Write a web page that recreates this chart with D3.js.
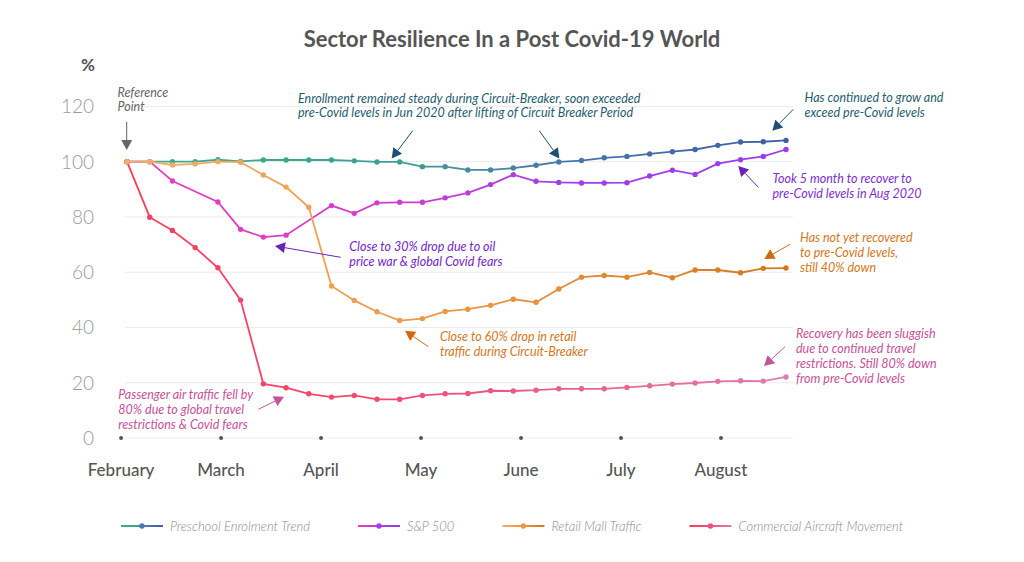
<!DOCTYPE html>
<html><head><meta charset="utf-8">
<script src="https://cdn.jsdelivr.net/npm/d3@7"></script>
<style>body{margin:0;background:#fff}svg{display:block}text{font-family:Lato,'Noto Sans',sans-serif}</style>
</head><body><svg id="c" width="1024" height="562"></svg>
<script>
// ---------- data ----------
const weeks = [0,1,2,3,4,5,6,7,8,9,10,11,12,13,14,15,16,17,18,19,20,21,22,23,24,25,26,27,28,29];
const preschool = [100,100,100,100,100.7,100.1,100.6,100.6,100.6,100.6,100.3,99.9,99.9,98.2,98.2,97.0,97.0,97.7,98.7,99.9,100.4,101.4,101.9,102.8,103.6,104.4,105.9,107.1,107.2,107.7];
const sp500 = [100,100,93.0,null,85.4,75.5,72.7,73.4,null,84.1,81.3,85.1,85.3,85.3,86.9,88.7,91.7,95.3,92.9,92.5,92.3,92.3,92.4,94.8,96.9,95.4,99.3,100.7,101.9,104.4];
const retail = [100,100,98.8,99.2,100,99.8,95.2,90.8,83.5,55.0,49.8,45.7,42.5,43.2,45.8,46.6,48.0,50.2,49.1,53.9,58.2,58.8,58.2,59.9,58.0,60.8,60.8,59.8,61.4,61.5];
const aircraft = [100,79.9,75.1,68.9,61.6,49.9,19.6,18.2,16.0,14.8,15.4,14.0,14.0,15.4,16.0,16.1,17.1,17.0,17.3,17.8,17.8,17.8,18.3,18.9,19.5,19.9,20.5,20.7,20.6,22.1];
const seriesNames = ["Preschool Enrolment Trend","S&P 500","Retail Mall Traffic","Commercial Aircraft Movement"];
const monthLabels = ["February","March","April","May","June","July","August"];
const monthPos = [-0.26,4.14,8.54,12.94,17.34,21.74,26.14];
const yTicks = [0,20,40,60,80,100,120];

// ---------- styles ----------
const gradStops = [
  [["0%","#3cae8c"],["40%","#3aa293"],["62%","#4a7aab"],["100%","#3f5ea6"]],
  [["0%","#ea3fbd"],["40%","#cf3dcc"],["65%","#a33ee6"],["100%","#9a3cf0"]],
  [["0%","#f6ad6a"],["50%","#eb9744"],["100%","#d6771e"]],
  [["0%","#f83d58"],["45%","#ef4f78"],["100%","#df7cb0"]]
];
const seriesData = [preschool, sp500, aircraft, retail];
const seriesIdx = [0,1,3,2]; // draw order -> gradient/name index

const svg = d3.select("#c");
const W = 1024, H = 562;
svg.append("rect").attr("width",W).attr("height",H).attr("fill","#fff");

const x = d3.scaleLinear().domain([0,29]).range([127,786]);
const y = d3.scaleLinear().domain([0,120]).range([438,106.4]);

const defs = svg.append("defs");
gradStops.forEach((st,i)=>{
  const g = defs.append("linearGradient").attr("id","g"+i)
    .attr("gradientUnits","userSpaceOnUse")
    .attr("x1",x(0)).attr("x2",x(29)).attr("y1",0).attr("y2",0);
  st.forEach(s=>g.append("stop").attr("offset",s[0]).attr("stop-color",s[1]));
  const gl = defs.append("linearGradient").attr("id","gl"+i)
    .attr("gradientUnits","userSpaceOnUse")
    .attr("x1",0).attr("x2",42).attr("y1",0).attr("y2",0);
  st.forEach(s=>gl.append("stop").attr("offset",s[0]).attr("stop-color",s[1]));
});

// title
svg.append("text").attr("x",512).attr("y",47).attr("text-anchor","middle")
  .attr("font-size",22).attr("font-weight",700).attr("fill","#555")
  .text("Sector Resilience In a Post Covid-19 World");
svg.append("text").attr("x",88).attr("y",71).attr("text-anchor","middle")
  .attr("font-size",17).attr("font-weight",700).attr("fill","#555").text("%");

// grid
svg.append("g").selectAll("line").data(yTicks).join("line")
  .attr("x1",125).attr("x2",793).attr("y1",d=>y(d)).attr("y2",d=>y(d))
  .attr("stroke","#ebebeb").attr("stroke-width",1);
svg.append("g").selectAll("text").data(yTicks).join("text")
  .attr("x",94).attr("y",d=>y(d)+7).attr("text-anchor","end")
  .attr("font-size",19).attr("font-weight",300).attr("fill","#9a9a9a").text(d=>d);

// x axis dots + labels
svg.append("g").selectAll("circle").data(monthPos).join("circle")
  .attr("cx",d=>x(d)).attr("cy",y(0)).attr("r",2).attr("fill","#555");
svg.append("g").selectAll("text").data(monthLabels).join("text")
  .attr("x",(d,i)=>x(monthPos[i])).attr("y",476).attr("text-anchor","middle")
  .attr("font-size",17).attr("font-weight",500).attr("fill","#555").text(d=>d);

// lines
const line = d3.line().x(d=>x(d.w)).y(d=>y(d.v));
seriesData.forEach((vals,k)=>{
  const gi = seriesIdx[k];
  const pts = weeks.map((w,i)=>({w, v: vals[i]})).filter(d=>d.v!==null);
  svg.append("path").datum(pts).attr("d",line).attr("fill","none")
    .attr("stroke","url(#g"+gi+")").attr("stroke-width",1.8);
  svg.append("g").selectAll("circle").data(pts).join("circle")
    .attr("cx",d=>x(d.w)).attr("cy",d=>y(d.v)).attr("r",2.7)
    .attr("fill","url(#g"+gi+")");
});

// annotations
const annos = [
  {lines:["Reference","Point"], x:117.5, y:96.5, color:"#666", arrow:[[126.7,122],[126.7,150]], ac:"#666"},
  {lines:["Enrollment remained steady during Circuit-Breaker, soon exceeded","pre-Covid levels in Jun 2020 after lifting of Circuit Breaker Period"], x:298, y:102.5, color:"#1f5d6e", arrow:[[412.7,130.7],[391.7,158.5]], ac:"#1e4f74"},
  {lines:[], arrow:[[539.3,130.7],[559.3,158.5]], ac:"#1e4f74"},
  {lines:["Has continued to grow and","exceed pre-Covid levels"], x:804.5, y:101.7, color:"#1f5d6e", arrow:[[793.3,109.3],[772.3,130.7]], ac:"#1e4f74"},
  {lines:["Took 5 month to recover to","pre-Covid levels in Aug 2020"], x:772.5, y:182.7, color:"#7d2ed0", arrow:[[758.3,187.3],[738.3,166]], ac:"#6a22b8"},
  {lines:["Close to 30% drop due to oil","price war & global Covid fears"], x:349.3, y:250.7, color:"#7424c6", arrow:[[340.7,257.3],[275,246]], ac:"#6a22b8"},
  {lines:["Has not yet recovered","to pre-Covid levels,","still 40% down"], x:800, y:241.7, color:"#d4761c", arrow:[[790,244.3],[764.3,259]], ac:"#d06a10"},
  {lines:["Close to 60% drop in retail","traffic during Circuit-Breaker"], x:440, y:340.7, color:"#d4761c", arrow:[[428.3,346.7],[405,330.7]], ac:"#d06a10"},
  {lines:["Recovery has been sluggish","due to continued travel","restrictions. Still 80% down","from pre-Covid levels"], x:796, y:338.3, color:"#c8509a", arrow:[[785,346.7],[764,366]], ac:"#c0569a"},
  {lines:["Passenger air traffic fell by","80% due to global travel","restrictions & Covid fears"], x:118.3, y:399.3, color:"#c8509a", arrow:[[258.3,409.3],[284,396.7]], ac:"#c0569a"}
];
annos.forEach(a=>{
  if(a.lines.length){
    const t = svg.append("text").attr("x",a.x).attr("y",a.y)
      .attr("font-size",12.5).attr("font-style","italic").attr("fill",a.color);
    a.lines.forEach((l,i)=>t.append("tspan").attr("x",a.x).attr("dy",i?14.9:0).text(l));
  }
  const [p0,p1] = a.arrow;
  const dx=p1[0]-p0[0], dy=p1[1]-p0[1], len=Math.hypot(dx,dy), ux=dx/len, uy=dy/len;
  const hl=10, hw=5.5;
  const bx=p1[0]-ux*hl, by=p1[1]-uy*hl;
  svg.append("line").attr("x1",p0[0]).attr("y1",p0[1]).attr("x2",bx).attr("y2",by)
    .attr("stroke",a.ac).attr("stroke-width",1);
  svg.append("path").attr("d",`M${p1[0]},${p1[1]}L${bx-uy*hw},${by+ux*hw}L${bx+uy*hw},${by-ux*hw}Z`)
    .attr("fill",a.ac);
});

// legend
const lg = svg.append("g");
const items = seriesNames.map((n,i)=>{
  const g = lg.append("g");
  g.append("line").attr("x1",0).attr("x2",42).attr("y1",0).attr("y2",0)
    .attr("stroke","url(#gl"+i+")").attr("stroke-width",2.2);
  g.append("circle").attr("cx",21).attr("cy",0).attr("r",2.7).attr("fill",gradStops[i][Math.floor(gradStops[i].length/2)][1]);
  const t = g.append("text").attr("x",49).attr("y",4.5).attr("font-size",13)
    .attr("font-style","italic").attr("font-weight",300).attr("fill","#8a8a8a").text(n);
  return {g, w: 49 + t.node().getComputedTextLength()};
});
const gap = 48;
const total = d3.sum(items,d=>d.w) + gap*(items.length-1);
let cx = 512 - total/2;
items.forEach(it=>{ it.g.attr("transform",`translate(${cx},526)`); cx += it.w + gap; });
</script></body></html>
